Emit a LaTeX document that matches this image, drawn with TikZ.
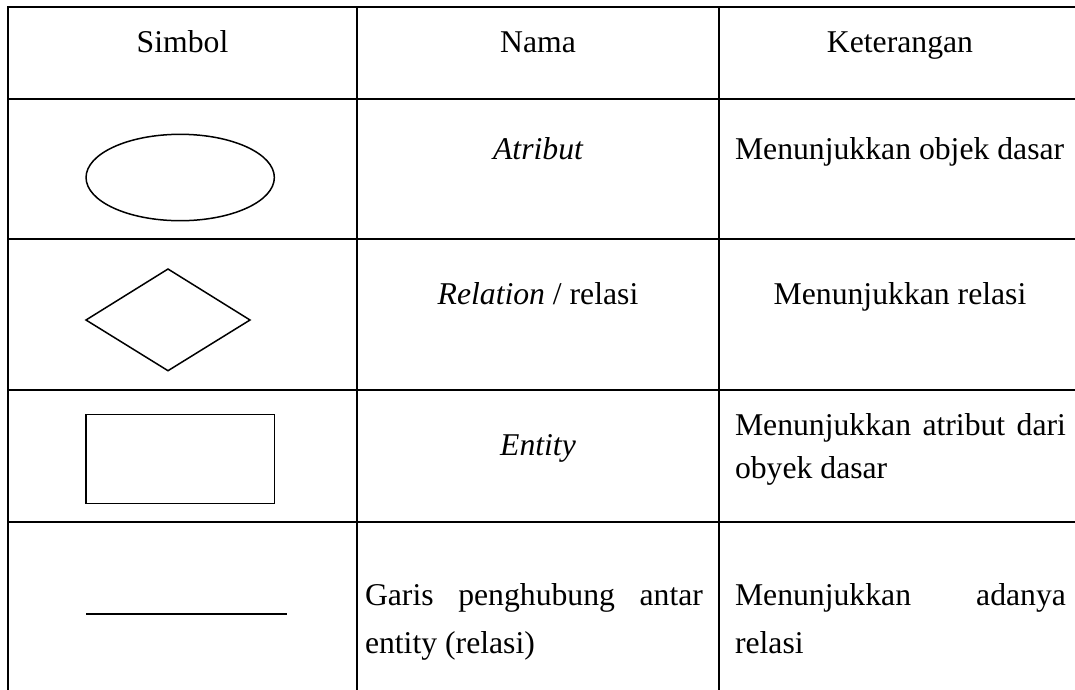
\documentclass[tikz,border=0pt]{standalone}
\usepackage{fontspec}
\setmainfont{Liberation Serif}
\usetikzlibrary{shapes.geometric}
% a line of text spread to a fixed width (justified line)
\newcommand\spreadline[2]{\makebox[#1][s]{#2}}
\tikzset{
  tablerule/.style={line width=2.2pt, line cap=rect},
  symbol/.style={draw, line width=1.5pt, inner sep=0pt, outer sep=0pt},
  txt/.style={inner sep=0pt, outer sep=0pt, font=\fontsize{31.7pt}{43pt}\selectfont},
  lefttxt/.style={txt, anchor=base west},
  midtxt/.style={txt, anchor=base},
}
\begin{document}
\begin{tikzpicture}[x=1pt,y=-1pt]
\useasboundingbox (0,0) rectangle (1075,689);

% table rules
\draw[tablerule] (8.3,689) -- (8.3,7.3) -- (1075,7.3);
\draw[tablerule] (356.7,7.3) -- (356.7,689);
\draw[tablerule] (718.6,7.3) -- (718.6,689);
\foreach \yy in {98.7,239.3,390,521.7}
  \draw[tablerule] (8.3,\yy) -- (1075,\yy);

% header
\node[midtxt] (hsimbol) at (182.5,52.5) {Simbol};
\node[midtxt] (hnama)   at (538,52.5)   {Nama};
\node[midtxt] (hket)    at (900,52.5)   {Keterangan};

% row 1: attribute
\node[symbol, ellipse, minimum width=188.3pt, minimum height=86.4pt] (sattr) at (180.2,177.5) {};
\node[midtxt] (nattr) at (538,159) {\itshape Atribut};
\node[lefttxt] (kattr) at (735,159) {Menunjukkan objek dasar};

% row 2: relation
\draw[line width=1.5pt, line join=miter]
  (86,320) coordinate (rl) -- (168,269) coordinate (rt)
  -- (250,320) coordinate (rr) -- (168,370.7) coordinate (rb) -- cycle;
\node[midtxt] (nrel) at (538,304) {\textit{Relation} / relasi};
\node[midtxt] (krel) at (900,304) {Menunjukkan relasi};

% row 3: entity
\node[symbol, rectangle, minimum width=188.3pt, minimum height=89pt] (sent) at (180.2,458.8) {};
\node[midtxt] (nent) at (538,455) {\itshape Entity};
\node[lefttxt] (kent1) at (735,435) {\spreadline{331pt}{Menunjukkan atribut dari}};
\node[lefttxt] (kent2) at (735,478) {obyek dasar};

% row 4: connecting line
\coordinate (la) at (86,614.3);
\coordinate (lb) at (286.7,614.3);
\draw[line width=1.8pt] (la) -- (lb);
\node[lefttxt] (nline1) at (365,605) {\spreadline{338pt}{Garis penghubung antar}};
\node[lefttxt] (nline2) at (365,653) {entity (relasi)};
\node[lefttxt] (kline1) at (735,605) {\spreadline{331pt}{Menunjukkan adanya}};
\node[lefttxt] (kline2) at (735,653) {relasi};
\end{tikzpicture}
\end{document}
